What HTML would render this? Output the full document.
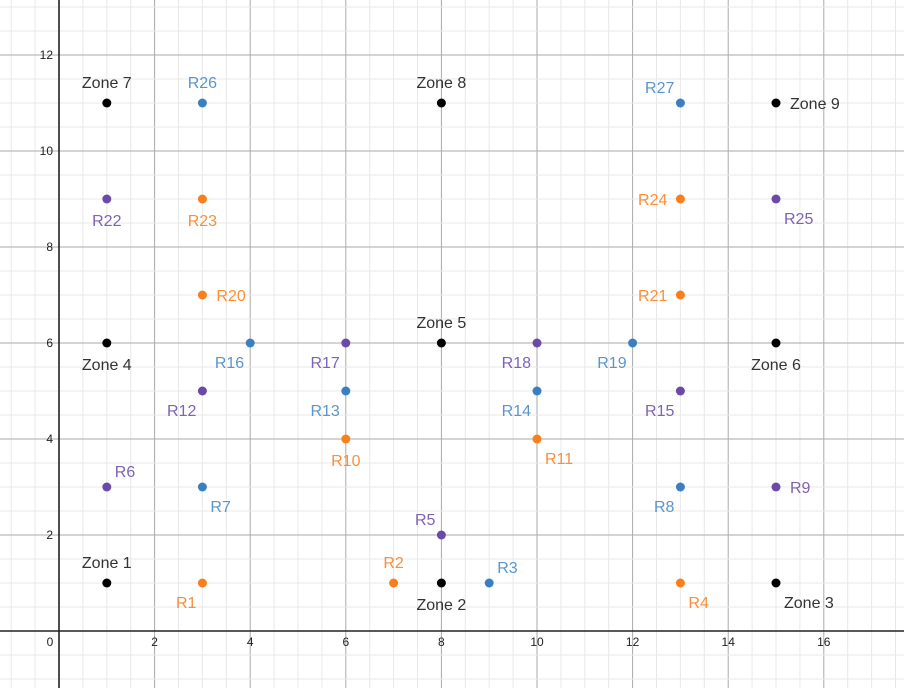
<!DOCTYPE html>
<html><head><meta charset="utf-8"><style>
html,body{margin:0;padding:0;background:#fff;}
svg{display:block;font-family:"Liberation Sans",Arial,sans-serif;}
</style></head><body>
<svg id="chart" width="904" height="688" viewBox="0 0 904 688"></svg>
<script>
const xTicks=[2,4,6,8,10,12,14,16];
const yTicks=[2,4,6,8,10,12];
const names=["Zone 1","Zone 2","Zone 3","Zone 4","Zone 5","Zone 6","Zone 7","Zone 8","Zone 9",
"R1","R2","R3","R4","R5","R6","R7","R8","R9","R10","R11","R12","R13","R14","R15","R16","R17","R18","R19","R20","R21","R22","R23","R24","R25","R26","R27"];
const xs=[1,8,15,1,8,15,1,8,15,
3,7,9,13,8,1,3,13,15,6,10,3,6,10,13,4,6,10,12,3,13,1,3,13,15,3,13];
const ys=[1,1,1,6,6,6,11,11,11,
1,1,1,1,2,3,3,3,3,4,4,5,5,5,5,6,6,6,6,7,7,9,9,9,9,11,11];
const groups=["zone","zone","zone","zone","zone","zone","zone","zone","zone",
"o","o","b","o","p","p","b","b","p","o","o","p","b","b","p","b","p","p","b","o","o","p","o","o","p","b","b"];
const labelPos=["N","S","SE","S","N","S","N","N","E",
"SW","N","NE","SE","NW","NE","SE","SW","E","S","SE","SW","SW","SW","SW","SW","SW","SW","SW","E","W","S","S","W","SE","N","NW"];
const colors={zone:["#000","#333"],o:["#fa7e19","#fa8f38"],b:["#3a7fc1","#5b95cc"],p:["#6a4aa9","#7e62b4"]};
const X0=59,Y0=631,SX=47.8,SY=48,W=904,H=688;
const sx=v=>X0+v*SX, sy=v=>Y0-v*SY;
const svg=document.getElementById('chart');const NS="http://www.w3.org/2000/svg";
function mk(t,a,p){const e=document.createElementNS(NS,t);for(const k in a)e.setAttribute(k,a[k]);(p||svg).appendChild(e);return e;}
const grid=mk('g',{});


for(let v=-1;v<=18;v+=0.5){const x=sx(v);if(x<0||x>W)continue;const major=v%2===0;
 mk('line',{x1:x,y1:0,x2:x,y2:H,stroke:major?'#aaaaaa':'#e8e8e8','stroke-width':1},grid);}
for(let v=-1.5;v<=14;v+=0.5){const y=sy(v);if(y<0||y>H)continue;const major=v%2===0;
 mk('line',{x1:0,y1:y,x2:W,y2:y,stroke:major?'#aaaaaa':'#e8e8e8','stroke-width':1},grid);}
const xa=mk('line',{x1:0,y1:Y0,x2:W,y2:Y0,stroke:'#222','stroke-width':1.6});


const ya=mk('line',{x1:X0,y1:0,x2:X0,y2:H,stroke:'#222','stroke-width':1.6});


const z=mk('text',{x:X0-9,y:Y0+15,'font-size':12,fill:'#222','text-anchor':'middle'});z.textContent='0';


xTicks.forEach(v=>{const t=mk('text',{x:sx(v),y:Y0+15,'font-size':12,fill:'#222','text-anchor':'middle'});t.textContent=v;
 
 });
yTicks.forEach(v=>{const t=mk('text',{x:X0-6,y:sy(v)+4,'font-size':12,fill:'#222','text-anchor':'end'});t.textContent=v;
 
 });
const off={N:[0,-15,'middle'],S:[0,27,'middle'],E:[14,6,'start'],W:[-13,6,'end'],NE:[8,-10,'start'],NW:[-6,-10,'end'],SE:[8,25,'start'],SW:[-6,25,'end']};
names.forEach((n,i)=>{const c=colors[groups[i]];const px=sx(xs[i]),py=sy(ys[i]);
 const d=mk('circle',{cx:px,cy:py,r:4.5,fill:c[0]});
 
 
 const o=off[labelPos[i]];
 const t=mk('text',{x:px+o[0],y:py+o[1],'font-size':16,fill:c[1],'text-anchor':o[2]});t.textContent=n;
 
 });
</script>
</body></html>
